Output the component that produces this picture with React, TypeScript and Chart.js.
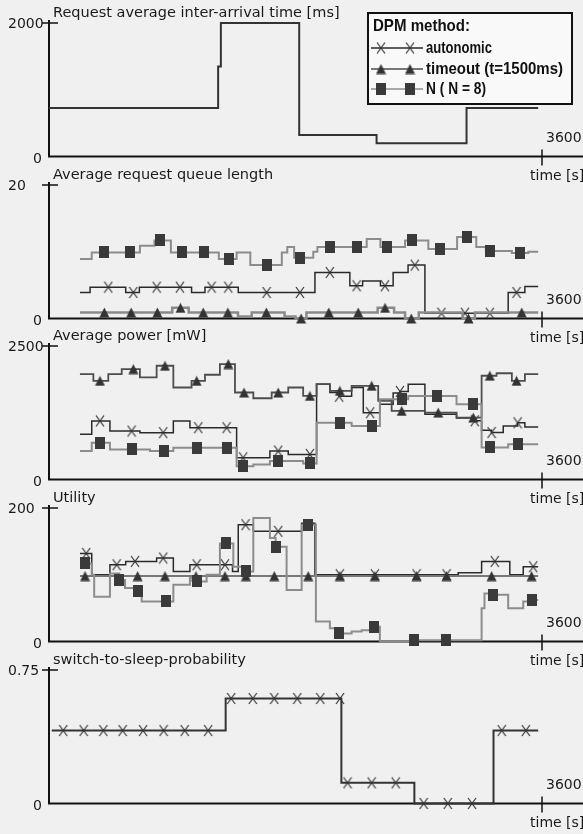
import React, { useEffect, useRef } from 'react';
import { Chart, registerables } from 'chart.js';

Chart.register(...registerables);

// [time s, value, marker(1) or not(0)]
type Pt = [number, number, number];

const TIME_MAX = 3600;
const TIME_TICK_LABEL = '3600';
const ZERO_LABEL = '0';
const TIME_AXIS_LABEL = 'time [s]';

const panelTitles = [
  'Request average inter-arrival time [ms]',
  'Average request queue length',
  'Average power [mW]',
  'Utility',
  'switch-to-sleep-probability',
];
const panelMax = [2000, 20, 2500, 200, 0.75];
const panelTopLabels = ['2000', '20', '2500', '200', '0.75'];

const legendTitle = 'DPM method:';
const legendLabels = ['autonomic', 'timeout (t=1500ms)', 'N ( N = 8)'];

// Panel 1: request inter-arrival time
const arrival: Pt[] = [
  [0, 725, 0], [1235, 1350, 0], [1255, 2000, 0], [1827, 323, 0], [2392, 198, 0], [3049, 725, 0], [3572, 725, 0],
];

// Panel 2: queue length
const queueN: Pt[] = [
  [226, 8.9, 0], [312, 9.9, 0], [404, 9.9, 1], [591, 9.9, 1], [664, 10.9, 0], [770, 11.7, 0], [810, 11.7, 1],
  [890, 9.9, 0], [969, 9.9, 1], [1132, 9.9, 1], [1240, 8.9, 0], [1314, 8.9, 1], [1370, 9.9, 0], [1470, 8.0, 0],
  [1589, 8.0, 1], [1700, 9.9, 0], [1740, 10.7, 0], [1790, 9.1, 0], [1832, 9.1, 1], [1930, 10.0, 0], [1960, 10.7, 0],
  [2051, 10.7, 1], [2246, 10.7, 1], [2320, 11.9, 0], [2420, 10.7, 0], [2465, 10.7, 1], [2600, 11.7, 0],
  [2648, 11.7, 1], [2770, 10.4, 0], [2854, 10.4, 1], [2980, 12.2, 0], [3049, 12.2, 1], [3120, 10.7, 0],
  [3190, 10.1, 0], [3219, 10.1, 1], [3380, 9.8, 0], [3438, 9.8, 1], [3500, 10.0, 0], [3572, 10.0, 0],
];
const queueAuto: Pt[] = [
  [226, 3.9, 0], [300, 4.7, 0], [433, 4.7, 1], [560, 3.9, 0], [616, 3.9, 1], [660, 4.7, 0], [786, 4.7, 1],
  [956, 4.7, 1], [1041, 3.9, 0], [1139, 4.7, 0], [1187, 4.7, 1], [1309, 4.7, 1], [1382, 3.9, 0], [1589, 3.9, 1],
  [1832, 3.9, 1], [1942, 6.9, 0], [2051, 6.9, 1], [2197, 4.9, 0], [2246, 4.9, 1], [2290, 5.6, 0], [2420, 4.9, 0],
  [2453, 4.9, 1], [2513, 6.9, 0], [2622, 8.0, 0], [2671, 8.0, 1], [2745, 0.8, 0], [2866, 0.8, 1], [3037, 0.8, 1],
  [3219, 0.8, 1], [3353, 3.9, 0], [3414, 3.9, 1], [3475, 4.8, 0], [3572, 4.8, 0],
];
const queueTimeout: Pt[] = [
  [226, 0.9, 0], [404, 0.9, 1], [600, 0.9, 1], [791, 0.9, 1], [900, 1.6, 0], [960, 1.6, 1], [1020, 0.9, 0],
  [1126, 0.9, 1], [1306, 0.9, 1], [1380, 0.3, 0], [1480, 0.9, 0], [1587, 0.9, 1], [1720, 0.3, 0], [1800, 0, 0],
  [1841, 0, 1], [1880, 0.9, 0], [2043, 0.9, 1], [2258, 0.9, 1], [2400, 1.6, 0], [2454, 1.6, 1], [2520, 0.9, 0],
  [2600, 0, 0], [2645, 0, 1], [2700, 0.9, 0], [3020, 0, 0], [3063, 0, 1], [3110, 0.9, 0], [3452, 0.9, 1],
  [3572, 0.9, 0],
];

// Panel 3: average power
const powerTimeout: Pt[] = [
  [226, 1974, 0], [324, 1848, 0], [372, 1848, 1], [433, 1974, 0], [531, 2068, 0], [616, 2068, 1], [664, 1911, 0],
  [786, 2130, 0], [847, 2130, 1], [908, 1723, 0], [1041, 1848, 0], [1078, 1848, 1], [1139, 1962, 0],
  [1248, 2162, 0], [1309, 2162, 1], [1358, 1629, 0], [1424, 1629, 1], [1492, 1522, 0], [1626, 1629, 0],
  [1674, 1629, 1], [1747, 1723, 0], [1856, 1566, 0], [1905, 1566, 1], [1954, 1786, 0], [2051, 1660, 0],
  [2124, 1660, 1], [2210, 1755, 0], [2356, 1755, 1], [2404, 1472, 0], [2502, 1285, 0], [2575, 1285, 1],
  [2745, 1253, 0], [2842, 1253, 1], [2976, 1160, 0], [3098, 1160, 1], [3159, 1943, 0], [3219, 1943, 1],
  [3268, 1990, 0], [3380, 1848, 0], [3414, 1848, 1], [3475, 1974, 0], [3572, 1974, 0],
];
const powerAuto: Pt[] = [
  [226, 846, 0], [312, 1096, 0], [372, 1096, 1], [445, 908, 0], [603, 908, 1], [664, 877, 0], [834, 877, 1],
  [908, 1096, 0], [1029, 971, 0], [1090, 971, 1], [1297, 971, 1], [1370, 407, 0], [1418, 407, 1], [1613, 533, 0],
  [1674, 533, 1], [1747, 470, 0], [1905, 470, 1], [1954, 1786, 0], [2051, 1629, 0], [2119, 1560, 1],
  [2210, 1723, 0], [2295, 1250, 0], [2345, 1250, 1], [2416, 1409, 0], [2513, 1620, 0], [2563, 1650, 1],
  [2623, 1786, 0], [2745, 1222, 0], [2976, 1150, 0], [3109, 1100, 1], [3159, 920, 0], [3232, 880, 1],
  [3317, 1000, 0], [3422, 1062, 1], [3475, 983, 0], [3572, 983, 0],
];
const powerN: Pt[] = [
  [226, 533, 0], [312, 690, 0], [372, 690, 1], [445, 564, 0], [603, 564, 1], [737, 533, 0], [840, 533, 1],
  [908, 595, 0], [1082, 595, 1], [1297, 595, 1], [1370, 250, 0], [1418, 250, 1], [1492, 282, 0], [1613, 345, 0],
  [1674, 345, 1], [1856, 300, 0], [1905, 300, 1], [1954, 1065, 0], [2124, 1065, 1], [2210, 1000, 0],
  [2356, 1000, 1], [2416, 1504, 0], [2575, 1504, 1], [2623, 1566, 0], [2830, 1566, 1], [2976, 1410, 0],
  [3098, 1410, 1], [3159, 600, 0], [3219, 600, 1], [3353, 658, 0], [3426, 658, 1], [3572, 658, 0],
];

// Panel 4: utility
const utilTimeout: Pt[] = [
  [226, 98, 0], [263, 98, 1], [647, 98, 1], [847, 98, 1], [1073, 98, 1], [1285, 98, 1], [1438, 98, 1],
  [1645, 98, 1], [1893, 98, 1], [2124, 98, 1], [2380, 98, 1], [2684, 98, 1], [2903, 98, 1], [3232, 98, 1],
  [3524, 98, 1], [3572, 98, 0],
];
const utilAuto: Pt[] = [
  [226, 132, 0], [272, 132, 1], [312, 100, 0], [445, 115, 0], [494, 115, 1], [560, 120, 0], [628, 120, 1],
  [786, 125, 0], [834, 125, 1], [908, 105, 0], [1029, 115, 0], [1078, 115, 1], [1285, 115, 1], [1340, 105, 0],
  [1382, 175, 0], [1435, 175, 1], [1492, 165, 0], [1674, 165, 1], [1845, 177, 0], [1942, 100, 0],
  [2124, 100, 1], [2380, 100, 1], [2684, 100, 1], [2903, 100, 1], [2988, 103, 0], [3159, 120, 0],
  [3255, 120, 1], [3365, 100, 0], [3463, 112, 0], [3536, 112, 1], [3572, 112, 0],
];
const utilN: Pt[] = [
  [226, 117, 0], [263, 117, 1], [312, 100, 0], [330, 67, 0], [445, 102, 0], [513, 92, 1], [555, 80, 0],
  [647, 75, 1], [677, 60, 0], [854, 60, 1], [908, 85, 0], [1029, 95, 0], [1078, 90, 1], [1151, 100, 0],
  [1248, 147, 0], [1290, 147, 1], [1346, 112, 0], [1438, 105, 1], [1492, 185, 0], [1613, 155, 0],
  [1655, 142, 1], [1735, 77, 0], [1845, 175, 0], [1893, 175, 1], [1949, 30, 0], [2051, 20, 0], [2117, 12, 1],
  [2210, 15, 0], [2283, 17, 0], [2373, 22, 1], [2416, 0, 0], [2665, 2, 1], [2898, 2, 1], [3159, 50, 0],
  [3180, 72, 0], [3244, 70, 1], [3353, 50, 0], [3463, 60, 0], [3528, 62, 1], [3572, 62, 0],
];

// Panel 5: switch-to-sleep probability
const sleepProb: Pt[] = [
  [20, 0.41, 0], [104, 0.41, 1], [253, 0.41, 1], [397, 0.41, 1], [538, 0.41, 1], [687, 0.41, 1], [837, 0.41, 1],
  [991, 0.41, 1], [1162, 0.41, 1], [1290, 0.59, 0], [1330, 0.59, 1], [1488, 0.59, 1], [1645, 0.59, 1],
  [1813, 0.59, 1], [1981, 0.59, 1], [2125, 0.59, 1], [2135, 0.116, 0], [2180, 0.116, 1], [2356, 0.116, 1],
  [2532, 0.116, 1], [2668, 0, 0], [2736, 0, 1], [2912, 0, 1], [3089, 0, 1], [3246, 0.41, 0], [3306, 0.41, 1],
  [3482, 0.41, 1], [3572, 0.41, 0],
];

const PANEL_TOPS = [0, 162, 323, 485, 647];
const CANVAS_W = 583;
const CANVAS_H = 185;

const AUTO_COLOR = '#2a2a2a';
const TIMEOUT_COLOR = '#4d4d4d';
const N_COLOR = '#8c8c8c';
const MARK_COLOR = '#3a3a3a';

function makeMarker(kind: 'x' | 'tri' | 'sq'): HTMLCanvasElement {
  const c = document.createElement('canvas');
  if (kind === 'sq') {
    c.width = 10; c.height = 12;
    const g = c.getContext('2d')!;
    g.fillStyle = MARK_COLOR;
    g.fillRect(0, 0, 10, 12);
  } else if (kind === 'tri') {
    c.width = 11; c.height = 11;
    const g = c.getContext('2d')!;
    g.fillStyle = '#333';
    g.beginPath();
    g.moveTo(5.5, 0.5); g.lineTo(10.5, 10.5); g.lineTo(0.5, 10.5); g.closePath();
    g.fill();
  } else {
    c.width = 10; c.height = 13;
    const g = c.getContext('2d')!;
    g.strokeStyle = '#333';
    g.lineWidth = 1.2;
    g.beginPath();
    g.moveTo(1, 1); g.lineTo(9, 12); g.moveTo(9, 1); g.lineTo(1, 12);
    g.stroke();
  }
  return c;
}

function makeDataset(points: Pt[], color: string, width: number, marker: HTMLCanvasElement | null) {
  return {
    data: points.map((p) => ({ x: p[0], y: p[1] })),
    borderColor: color,
    borderWidth: width,
    stepped: true,
    fill: false,
    pointStyle: marker || 'circle',
    pointRadius: points.map((p) => (marker && p[2] ? 5 : 0)),
    pointHoverRadius: 0,
    clip: 12,
  };
}

function condensedText(ctx: CanvasRenderingContext2D, text: string, x: number, y: number, sx: number) {
  ctx.save();
  ctx.translate(x, y);
  ctx.scale(sx, 1);
  ctx.fillText(text, 0, 0);
  ctx.restore();
}

const decorPlugin = {
  id: 'decor',
  beforeDatasetsDraw(chart: any, _args: any, opts: any) {
    const { ctx } = chart;
    const xs = chart.scales.x;
    const ys = chart.scales.y;
    const x0 = xs.getPixelForValue(0);
    const x1 = xs.getPixelForValue(TIME_MAX);
    const y0 = ys.getPixelForValue(0);
    const yt = ys.getPixelForValue(ys.max);
    ctx.save();
    ctx.strokeStyle = '#111';
    ctx.lineWidth = 2;
    ctx.beginPath();
    ctx.moveTo(x0, yt - 3);
    ctx.lineTo(x0, y0);
    ctx.moveTo(x0 - 1, y0);
    ctx.lineTo(chart.width, y0);
    ctx.stroke();
    ctx.lineWidth = 1.5;
    ctx.beginPath();
    ctx.moveTo(x0 - 7, yt);
    ctx.lineTo(x0 + 9, yt);
    ctx.moveTo(x1, y0 - 7);
    ctx.lineTo(x1, y0 + 9);
    ctx.stroke();

    ctx.fillStyle = '#1a1a1a';
    ctx.textBaseline = 'middle';
    ctx.textAlign = 'left';
    ctx.font = '14px "DejaVu Sans", sans-serif';
    ctx.fillText(opts.topLabel, 8, yt + 1);
    ctx.fillText(ZERO_LABEL, 33, y0 + 3);
    ctx.fillText(TIME_TICK_LABEL, x1 + 4, y0 - 18);
    ctx.fillText(TIME_AXIS_LABEL, 530, y0 + 20);
    ctx.font = '14.5px "DejaVu Sans", sans-serif';
    ctx.fillText(opts.title, 53, yt - 10);
    ctx.restore();
  },
  afterDraw(chart: any, _args: any, opts: any) {
    if (!opts.legend) return;
    const { ctx } = chart;
    const markers: HTMLCanvasElement[] = opts.markers;
    const colors = [AUTO_COLOR, TIMEOUT_COLOR, N_COLOR];
    ctx.save();
    ctx.fillStyle = '#f9f9f9';
    ctx.fillRect(368, 13, 204, 91);
    ctx.strokeStyle = '#111';
    ctx.lineWidth = 2;
    ctx.strokeRect(368, 13, 204, 91);
    ctx.fillStyle = '#111';
    ctx.textBaseline = 'middle';
    ctx.textAlign = 'left';
    ctx.font = 'bold 17px "Liberation Sans", sans-serif';
    const headW = ctx.measureText(legendTitle).width;
    condensedText(ctx, legendTitle, 373, 26, 97 / headW);
    const rows = [48, 69, 89];
    const widthTargets = [66, 137, 60];
    legendLabels.forEach((label, i) => {
      const y = rows[i];
      ctx.strokeStyle = colors[i];
      ctx.lineWidth = 1.5;
      ctx.beginPath();
      ctx.moveTo(371, y);
      ctx.lineTo(423, y);
      ctx.stroke();
      const m = markers[i];
      [381, 410].forEach((mx) => ctx.drawImage(m, mx - m.width / 2, y - m.height / 2));
      ctx.fillStyle = '#111';
      const w = ctx.measureText(label).width;
      condensedText(ctx, label, 426, y, widthTargets[i] / w);
    });
    ctx.restore();
  },
};

export default function App() {
  const refs = useRef<(HTMLCanvasElement | null)[]>([]);

  useEffect(() => {
    const mx = makeMarker('x');
    const mt = makeMarker('tri');
    const ms = makeMarker('sq');
    const panelData = [
      [makeDataset(arrival, '#333', 2, null)],
      [makeDataset(queueN, N_COLOR, 2, ms), makeDataset(queueTimeout, '#8a8a8a', 2.5, mt), makeDataset(queueAuto, AUTO_COLOR, 1.5, mx)],
      [makeDataset(powerN, N_COLOR, 2, ms), makeDataset(powerTimeout, TIMEOUT_COLOR, 1.8, mt), makeDataset(powerAuto, AUTO_COLOR, 1.5, mx)],
      [makeDataset(utilN, N_COLOR, 2, ms), makeDataset(utilTimeout, '#777', 2, mt), makeDataset(utilAuto, AUTO_COLOR, 1.5, mx)],
      [makeDataset(sleepProb, '#333', 2, mx)],
    ];
    const charts: Chart[] = [];
    panelData.forEach((datasets, i) => {
      const canvas = refs.current[i];
      if (!canvas) return;
      charts.push(
        new Chart(canvas, {
          type: 'line',
          data: { datasets: datasets as any },
          options: {
            responsive: false,
            animation: false,
            events: [],
            layout: { padding: { left: 49, right: 41, top: 23, bottom: 28.5 } },
            scales: {
              x: { type: 'linear', min: 0, max: TIME_MAX, display: false },
              y: { type: 'linear', min: 0, max: panelMax[i], display: false },
            },
            plugins: {
              legend: { display: false },
              tooltip: { enabled: false },
              decor: {
                title: panelTitles[i],
                topLabel: panelTopLabels[i],
                legend: i === 0,
                markers: [mx, mt, ms],
              },
            } as any,
          },
          plugins: [decorPlugin],
        })
      );
    });
    return () => charts.forEach((c) => c.destroy());
  }, []);

  return (
    <div
      style={{
        position: 'absolute',
        left: 0,
        top: 0,
        width: CANVAS_W,
        height: 834,
        background: '#f0f0f0',
        overflow: 'hidden',
      }}
    >
      {PANEL_TOPS.map((t, i) => (
        <canvas
          key={i}
          ref={(el) => {
            refs.current[i] = el;
          }}
          width={CANVAS_W}
          height={CANVAS_H}
          style={{ position: 'absolute', left: 0, top: t, width: CANVAS_W, height: CANVAS_H }}
        />
      ))}
    </div>
  );
}
